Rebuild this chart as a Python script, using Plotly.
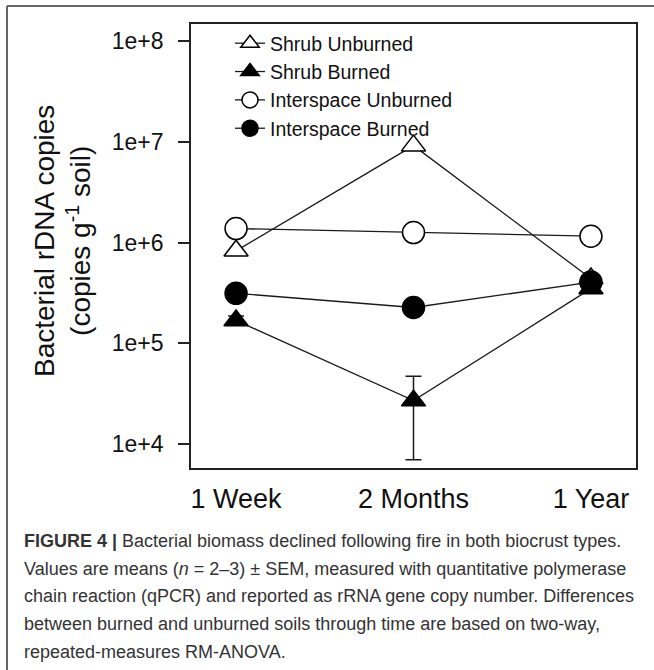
import plotly.graph_objects as go

# Sampling times and series (bacterial rDNA copies per g soil)
times = ["1 Week", "2 Months", "1 Year"]
shrub_unburned = [8.3e5, 9.2e6, 4.4e5]
shrub_burned = [1.69e5, 2.7e4, 3.5e5]
shrub_burned_sem = [1.8e4, 2.0e4, 3.0e4]
interspace_unburned = [1.38e6, 1.26e6, 1.16e6]
interspace_burned = [3.14e5, 2.27e5, 4.06e5]

y_tickvals = [1e4, 1e5, 1e6, 1e7, 1e8]
y_ticktext = ["1e+4", "1e+5", "1e+6", "1e+7", "1e+8"]

caption_lines = [
    "<b>FIGURE 4 |</b> Bacterial biomass declined following fire in both biocrust types.",
    "Values are means (<i>n</i> = 2–3) ± SEM, measured with quantitative polymerase",
    "chain reaction (qPCR) and reported as rRNA gene copy number. Differences",
    "between burned and unburned soils through time are based on two-way,",
    "repeated-measures RM-ANOVA.",
]

W, H = 654, 670
L, R, T, B = 191, 18, 24, 202
PW, PH = W - L - R, H - T - B


def px_x(px):
    return (px - L) / PW


def px_y(py):
    return (H - B - py) / PH


FONT = "Liberation Sans, Arial, sans-serif"
INK = "#111111"

series = [
    ("Shrub Unburned", shrub_unburned, "triangle-up", "white", 21, None),
    ("Shrub Burned", shrub_burned, "triangle-up", "black", 21, shrub_burned_sem),
    ("Interspace Unburned", interspace_unburned, "circle", "white", 22, None),
    ("Interspace Burned", interspace_burned, "circle", "black", 22, None),
]

fig = go.Figure()
for name, vals, sym, fill, size, err in series:
    fig.add_trace(go.Scatter(
        x=times, y=vals, name=name, mode="lines+markers",
        line=dict(color="#1a1a1a", width=1.3),
        marker=dict(symbol=sym, size=size, color=fill,
                    line=dict(color="black", width=1.5)),
        error_y=(dict(type="data", array=err, visible=True, color="#1a1a1a",
                      thickness=1.5, width=8) if err else None),
    ))

fig.update_xaxes(
    type="category", range=[-0.254, 2.254], showgrid=False, zeroline=False,
    showline=True, mirror=True, linecolor="#222222", linewidth=1.6,
    ticks="", tickfont=dict(family=FONT, size=27, color=INK),
    ticklabelstandoff=6,
)
fig.update_yaxes(
    type="log", range=[3.762, 8.172], showgrid=False, zeroline=False,
    showline=True, mirror=True, linecolor="#222222", linewidth=1.6,
    ticks="outside", ticklen=11, tickwidth=1.5, tickcolor="#222222",
    tickvals=y_tickvals, ticktext=y_ticktext,
    tickfont=dict(family=FONT, size=23, color=INK),
    ticklabelstandoff=10,
)

annotations = [
    dict(text="Bacterial rDNA copies<br>(copies g<sup>-1</sup> soil)",
         x=px_x(62), y=px_y(241), xref="paper", yref="paper",
         xanchor="center", yanchor="middle", textangle=-90, showarrow=False,
         font=dict(family=FONT, size=28, color=INK)),
]
for i, line in enumerate(caption_lines):
    annotations.append(dict(
        text=line, x=px_x(22), y=px_y(541 + 27.7 * i), xref="paper", yref="paper",
        xanchor="left", yanchor="middle", showarrow=False, align="left",
        font=dict(family=FONT, size=18, color="#333333"),
    ))

shapes = [
    dict(type="line", xref="paper", yref="paper", x0=px_x(7), x1=px_x(654),
         y0=px_y(6), y1=px_y(6), line=dict(color="#666666", width=2)),
    dict(type="line", xref="paper", yref="paper", x0=px_x(7), x1=px_x(7),
         y0=px_y(6), y1=px_y(670), line=dict(color="#666666", width=2)),
]

fig.update_layout(
    width=W, height=H, margin=dict(l=L, r=R, t=T, b=B),
    paper_bgcolor="white", plot_bgcolor="white",
    font=dict(family=FONT, color=INK),
    showlegend=True,
    legend=dict(x=px_x(230), y=px_y(24), xanchor="left", yanchor="top",
                bgcolor="rgba(0,0,0,0)", borderwidth=0,
                font=dict(family=FONT, size=19.5, color=INK),
                tracegroupgap=0),
    annotations=annotations, shapes=shapes,
)

fig.write_html("out.html")
